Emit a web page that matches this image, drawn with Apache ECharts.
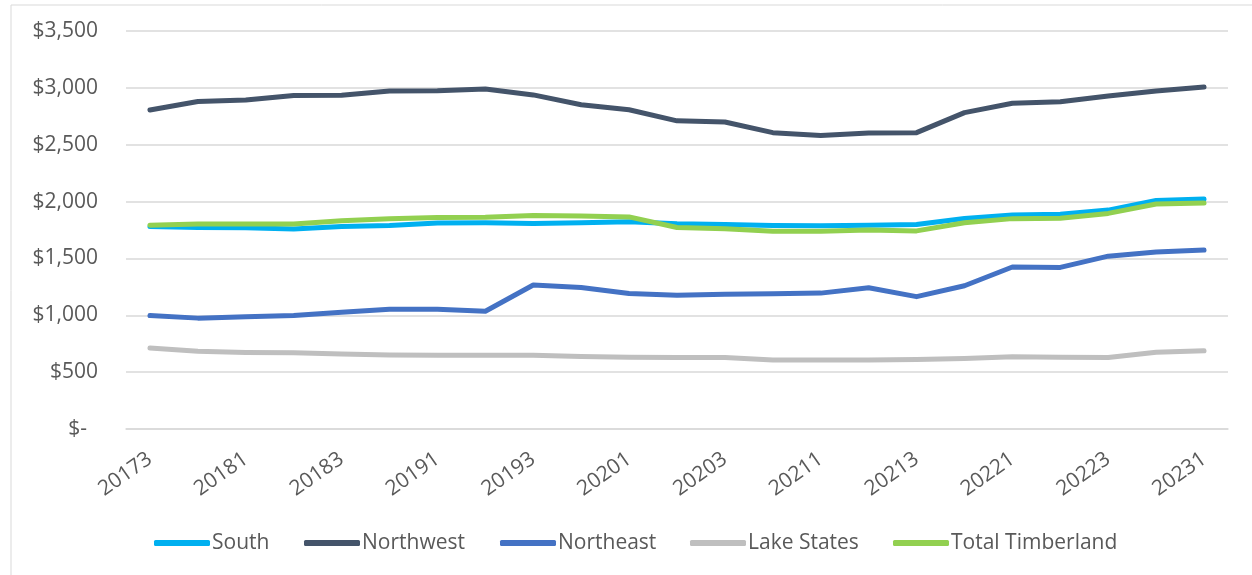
<!DOCTYPE html>
<html>
<head>
<meta charset="utf-8">
<script src="https://cdn.jsdelivr.net/npm/echarts@6/dist/echarts.min.js"></script>
<style>
html,body{margin:0;padding:0;background:#fff;}
#chart{width:1252px;height:575px;}
</style>
</head>
<body>
<div id="chart"></div>
<script>
const categories = ['20173','20174','20181','20182','20183','20184','20191','20192','20193','20194','20201','20202','20203','20204','20211','20212','20213','20214','20221','20222','20223','20224','20231'];
const south = [1780,1772,1770,1758,1780,1789,1812,1814,1807,1813,1822,1804,1798,1790,1788,1792,1798,1852,1883,1889,1925,2010,2022];
const northwest = [2805,2880,2893,2933,2935,2973,2975,2990,2938,2852,2808,2710,2700,2606,2581,2603,2606,2782,2864,2878,2928,2973,3008];
const northeast = [998,975,988,998,1027,1054,1054,1036,1266,1245,1192,1177,1186,1190,1195,1242,1164,1260,1425,1421,1520,1556,1574];
const lakeStates = [712,684,673,670,660,650,649,649,648,637,631,628,628,606,606,607,612,621,636,631,628,674,688];
const totalTimberland = [1792,1803,1803,1803,1832,1849,1860,1862,1878,1874,1865,1772,1762,1740,1738,1750,1742,1813,1850,1853,1896,1978,1987];
const yTicks = {min: 0, max: 3500, interval: 500};

const seriesDefs = [
  {name: 'South', data: south, color: '#00B0F0'},
  {name: 'Northwest', data: northwest, color: '#44546A'},
  {name: 'Northeast', data: northeast, color: '#4472C4'},
  {name: 'Lake States', data: lakeStates, color: '#BFBFBF'},
  {name: 'Total Timberland', data: totalTimberland, color: '#92D050'}
];
// legend item left edges (layout)
const legendLefts = [154, 304, 500, 690, 893];

const chart = echarts.init(document.getElementById('chart'), null, {renderer: 'canvas'});
const font = "'Open Sans', 'Noto Sans', sans-serif";
chart.setOption({
  animation: false,
  backgroundColor: '#ffffff',
  graphic: [{
    type: 'rect', left: 8.5, top: 2.5, silent: true,
    shape: {width: 1260, height: 600},
    style: {fill: 'none', stroke: '#d9d9d9', lineWidth: 1}
  }],
  grid: {left: 126, right: 24, top: 31, bottom: 146},
  legend: seriesDefs.map((s, i) => ({
    top: 531,
    left: legendLefts[i],
    padding: 0,
    icon: 'roundRect',
    itemWidth: 56,
    itemHeight: 6,
    textStyle: {color: '#595959', fontSize: 21, lineHeight: 24, fontFamily: font, padding: [0, 0, 0, -3]},
    data: [s.name]
  })),
  xAxis: {
    type: 'category',
    data: categories,
    boundaryGap: true,
    axisLine: {show: true, lineStyle: {color: '#d9d9d9', width: 1.5}},
    axisTick: {show: false},
    axisLabel: {
      interval: 1, rotate: 35, color: '#595959', fontSize: 21, fontFamily: font, margin: 28
    }
  },
  yAxis: {
    type: 'value',
    min: yTicks.min, max: yTicks.max, interval: yTicks.interval,
    axisLine: {show: false},
    axisTick: {show: false},
    splitLine: {lineStyle: {color: '#d9d9d9', width: 1.5}},
    axisLabel: {
      color: '#595959', fontSize: 21, fontFamily: font, margin: 28,
      formatter: v => v === 0 ? '{z|$-}' : '$' + v.toLocaleString('en-US'),
      rich: {z: {color: '#595959', fontSize: 21, fontFamily: font, padding: [0, 11, 0, 0]}}
    }
  },
  series: seriesDefs.map(s => ({
    name: s.name,
    type: 'line',
    data: s.data,
    showSymbol: false,
    symbol: 'none',
    color: s.color,
    lineStyle: {width: 5, color: s.color, cap: 'round', join: 'round'},
    itemStyle: {color: s.color}
  }))
});
</script>
</body>
</html>
